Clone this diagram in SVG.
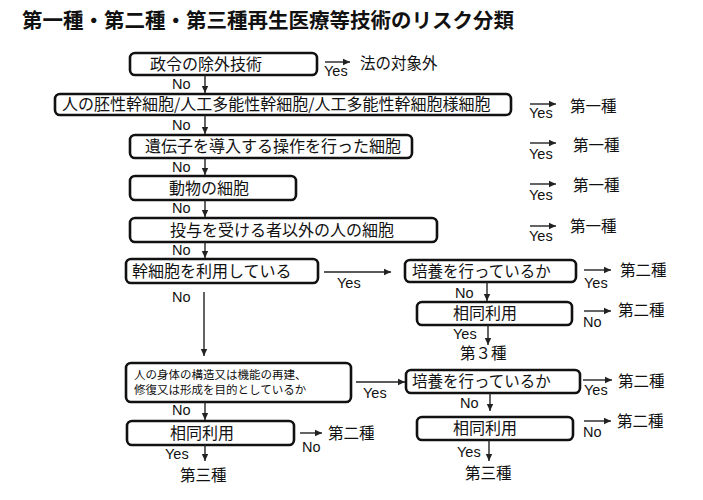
<svg xmlns="http://www.w3.org/2000/svg" width="703" height="500" viewBox="0 0 703 500">
<style>
.bg{fill:#ffffff}
.box{fill:#ffffff;stroke:#111;stroke-width:2.6}
.t{font-family:"Noto Sans CJK JP","Noto Sans CJK SC",sans-serif;font-size:16px;fill:#111}
.ts{font-family:"Noto Sans CJK JP","Noto Sans CJK SC",sans-serif;font-size:11.5px;fill:#111}
.r{font-family:"Noto Sans CJK JP","Noto Sans CJK SC",sans-serif;font-size:15.5px;fill:#111}
.l{font-family:"Liberation Sans",Arial,sans-serif;font-size:14.5px;fill:#111}
.title{font-family:"Noto Sans CJK JP","Noto Sans CJK SC",sans-serif;font-size:20.5px;font-weight:bold;fill:#111}
.c{stroke:#222;stroke-width:1.4;fill:none;marker-end:url(#ah)}
</style>
<defs>
<marker id="ah" markerUnits="userSpaceOnUse" markerWidth="8" markerHeight="8" refX="7" refY="4" orient="auto">
<path d="M0,0.8 L7,4 L0,7.2 Z" fill="#222"/>
</marker>
</defs>
<rect class="bg" x="0" y="0" width="703" height="500"/>
<text class="title" x="22" y="28">第一種・第二種・第三種再生医療等技術のリスク分類</text>

<g id="n1"><rect class="box" x="130" y="53" width="187" height="22" rx="5"/><text class="t" x="150" y="70">政令の除外技術</text></g>
<g id="n2"><rect class="box" x="55" y="94" width="456" height="21" rx="5"/><text class="t" x="62" y="110">人の胚性幹細胞/人工多能性幹細胞/人工多能性幹細胞様細胞</text></g>
<g id="n3"><rect class="box" x="130" y="135" width="282" height="23" rx="5"/><text class="t" x="145" y="152">遺伝子を導入する操作を行った細胞</text></g>
<g id="n4"><rect class="box" x="130" y="176" width="166" height="24" rx="5"/><text class="t" x="169" y="194">動物の細胞</text></g>
<g id="n5"><rect class="box" x="130" y="218" width="307" height="24" rx="5"/><text class="t" x="170" y="236">投与を受ける者以外の人の細胞</text></g>
<g id="n6"><rect class="box" x="126" y="259" width="192" height="24" rx="5"/><text class="t" x="132" y="277">幹細胞を利用している</text></g>
<g id="n7"><rect class="box" x="126" y="363" width="225" height="39" rx="5"/><text class="ts" x="134" y="379">人の身体の構造又は機能の再建、</text><text class="ts" x="134" y="394">修復又は形成を目的としているか</text></g>
<g id="n8"><rect class="box" x="127" y="421" width="167" height="24" rx="5"/><text class="t" x="170" y="439">相同利用</text></g>
<g id="n9"><rect class="box" x="405" y="260" width="171" height="22" rx="5"/><text class="r" x="412" y="277">培養を行っているか</text></g>
<g id="n10"><rect class="box" x="417" y="302" width="155" height="23" rx="5"/><text class="t" x="453" y="319">相同利用</text></g>
<g id="n11"><rect class="box" x="406" y="370" width="174" height="23" rx="5"/><text class="r" x="412" y="387">培養を行っているか</text></g>
<g id="n12"><rect class="box" x="417" y="417" width="156" height="23" rx="5"/><text class="t" x="453" y="434">相同利用</text></g>

<g id="connectors">
<line class="c" x1="205" y1="75" x2="205" y2="93"/>
<line class="c" x1="205" y1="115" x2="205" y2="134"/>
<line class="c" x1="205" y1="158" x2="205" y2="175"/>
<line class="c" x1="205" y1="200" x2="205" y2="217"/>
<line class="c" x1="205" y1="242" x2="205" y2="258"/>
<line class="c" x1="204" y1="292" x2="204" y2="356"/>
<line class="c" x1="205" y1="402" x2="205" y2="420"/>
<line class="c" x1="205" y1="445" x2="205" y2="461"/>
<line class="c" x1="325" y1="62" x2="350" y2="62"/>
<line class="c" x1="530" y1="104" x2="556" y2="104"/>
<line class="c" x1="530" y1="143" x2="556" y2="143"/>
<line class="c" x1="530" y1="184" x2="556" y2="184"/>
<line class="c" x1="530" y1="226" x2="556" y2="226"/>
<line class="c" x1="324" y1="272" x2="391" y2="272"/>
<line class="c" x1="584" y1="270" x2="611" y2="270"/>
<line class="c" x1="487" y1="282" x2="487" y2="301"/>
<line class="c" x1="584" y1="311" x2="611" y2="311"/>
<line class="c" x1="488" y1="325" x2="488" y2="345"/>
<line class="c" x1="356" y1="382" x2="405" y2="382"/>
<line class="c" x1="583" y1="380" x2="612" y2="380"/>
<line class="c" x1="490" y1="393" x2="490" y2="411"/>
<line class="c" x1="584" y1="421" x2="611" y2="421"/>
<line class="c" x1="489" y1="440" x2="489" y2="461"/>
<line class="c" x1="300" y1="433" x2="322" y2="433"/>
</g>

<g id="labels">
<text class="l" x="172" y="89">No</text>
<text class="l" x="172" y="130">No</text>
<text class="l" x="172" y="172">No</text>
<text class="l" x="172" y="213">No</text>
<text class="l" x="172" y="255">No</text>
<text class="l" x="172" y="302">No</text>
<text class="l" x="172" y="415">No</text>
<text class="l" x="165" y="459">Yes</text>
<text class="r" x="180" y="481">第三種</text>

<text class="l" x="324" y="76">Yes</text>
<text class="r" x="360" y="69">法の対象外</text>
<text class="l" x="529" y="118">Yes</text>
<text class="r" x="570" y="112">第一種</text>
<text class="l" x="529" y="159">Yes</text>
<text class="r" x="573" y="151">第一種</text>
<text class="l" x="529" y="200">Yes</text>
<text class="r" x="573" y="191">第一種</text>
<text class="l" x="529" y="241">Yes</text>
<text class="r" x="570" y="232">第一種</text>

<text class="l" x="337" y="288">Yes</text>
<text class="l" x="584" y="288">Yes</text>
<text class="r" x="620" y="276">第二種</text>
<text class="l" x="455" y="298">No</text>
<text class="l" x="583" y="327">No</text>
<text class="r" x="618" y="316">第二種</text>
<text class="l" x="453" y="339">Yes</text>
<text class="r" x="460" y="359">第３種</text>

<text class="l" x="363" y="398">Yes</text>
<text class="l" x="584" y="395">Yes</text>
<text class="r" x="618" y="387">第二種</text>
<text class="l" x="460" y="408">No</text>
<text class="l" x="583" y="437">No</text>
<text class="r" x="617" y="427">第二種</text>
<text class="l" x="457" y="457">Yes</text>
<text class="r" x="465" y="479">第三種</text>
<text class="l" x="302" y="452">No</text>
<text class="r" x="328" y="439">第二種</text>
</g>
</svg>
